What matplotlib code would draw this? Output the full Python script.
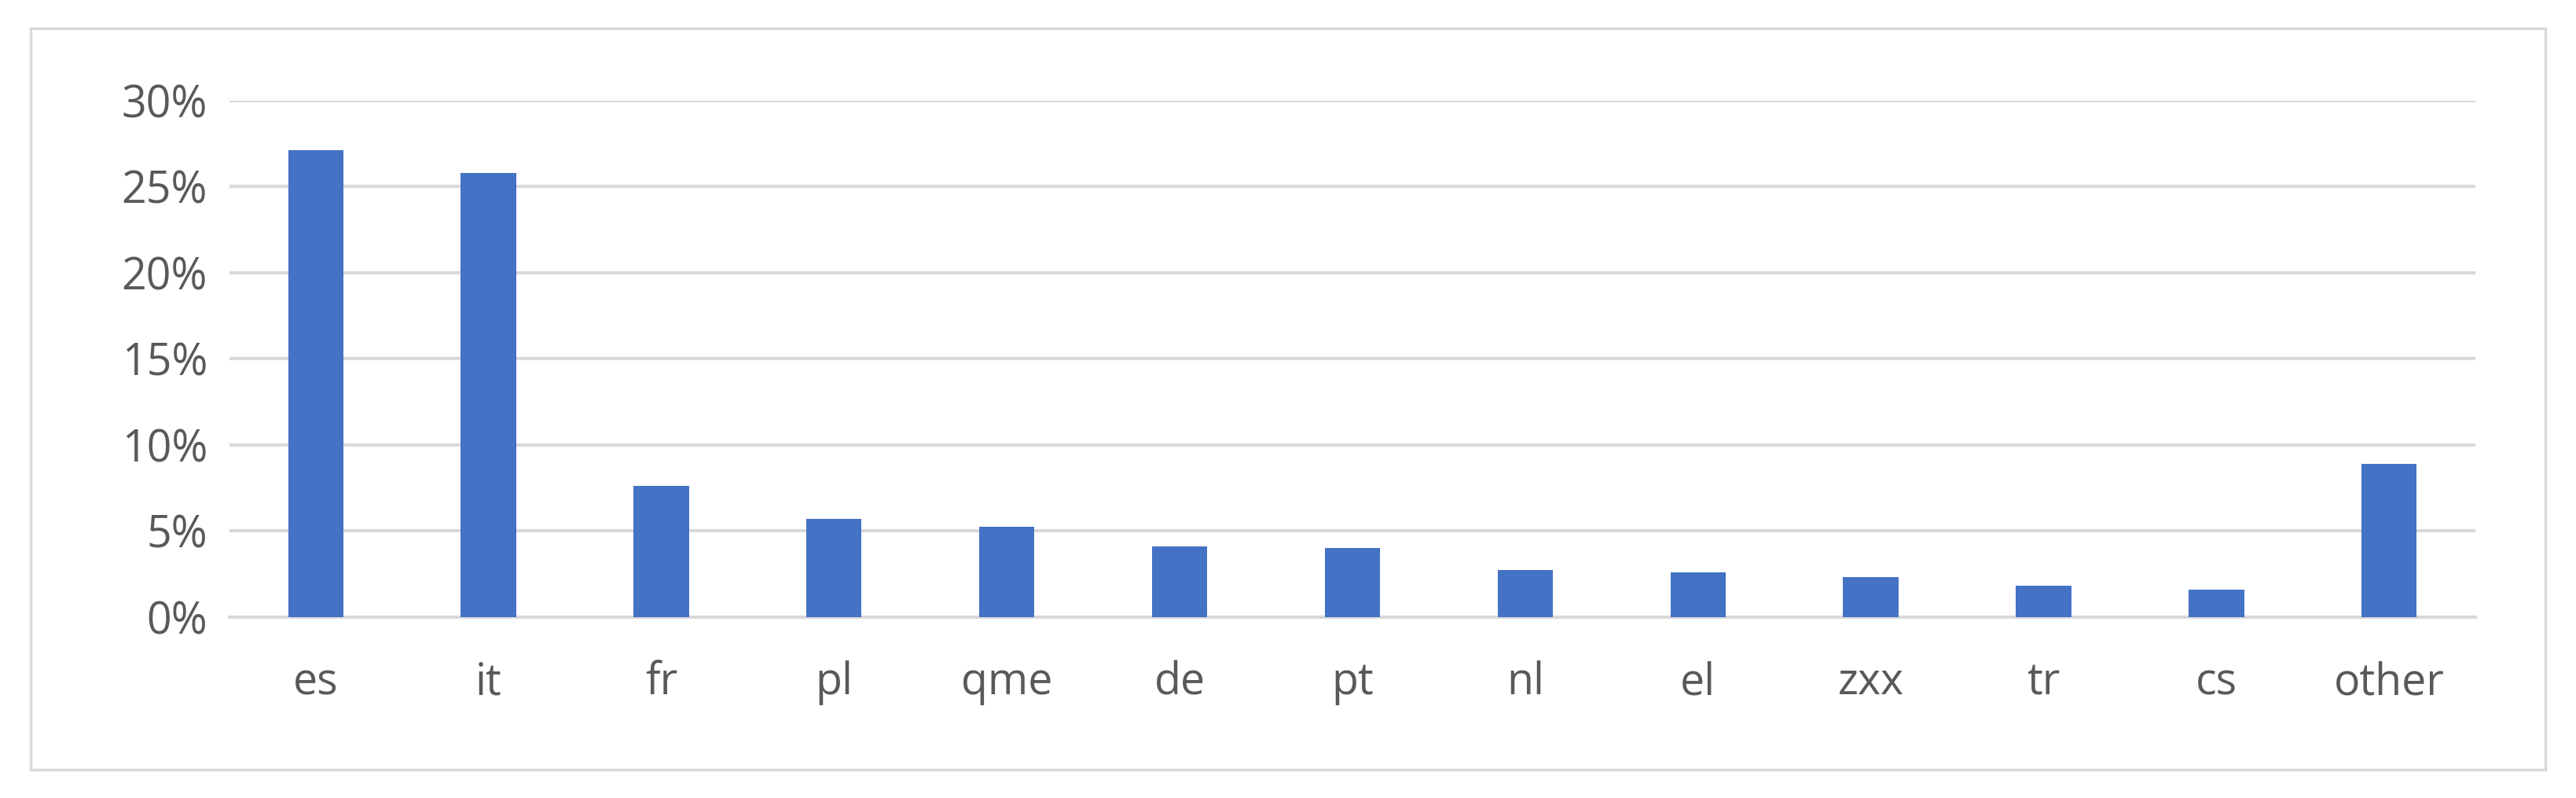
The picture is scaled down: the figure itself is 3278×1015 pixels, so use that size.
import matplotlib.pyplot as plt
from matplotlib.patches import Rectangle
from matplotlib.ticker import FuncFormatter

languages = ["es", "it", "fr", "pl", "qme", "de", "pt", "nl", "el", "zxx", "tr", "cs", "other"]
shares = [27.1, 25.8, 7.6, 5.7, 5.25, 4.1, 4.0, 2.7, 2.6, 2.3, 1.8, 1.6, 8.9]

plt.rcParams['font.family'] = ['Open Sans', 'DejaVu Sans']
grey = '#595959'

fig = plt.figure(figsize=(32.78, 10.15), dpi=100)
fig.patches.append(Rectangle((0.012, 0.035), 0.976, 0.93, transform=fig.transFigure,
                             fill=False, edgecolor='#d9d9d9', linewidth=2.5))
ax = fig.add_axes([0.089, 0.227, 0.872, 0.647])

x = range(len(languages))
ax.bar(x, shares, width=0.32, color='#4472C4', zorder=3)

ax.set_ylim(0, 30)
ax.set_xlim(-0.5, len(languages) - 0.5)
ax.set_yticks(range(0, 31, 5))
ax.yaxis.set_major_formatter(FuncFormatter(lambda v, p: "{:.0f}%".format(v)))
ax.set_xticks(list(x))
ax.set_xticklabels(languages)
ax.grid(axis='y', color='#d9d9d9', linewidth=3, zorder=0)
for side in ['top', 'right', 'left']:
    ax.spines[side].set_visible(False)
ax.spines['bottom'].set_color('#d9d9d9')
ax.spines['bottom'].set_linewidth(3)
ax.tick_params(axis='both', length=0, labelsize=40, colors=grey)
ax.tick_params(axis='x', pad=40)
ax.tick_params(axis='y', pad=20)

fig.savefig('out.png', dpi=100)
